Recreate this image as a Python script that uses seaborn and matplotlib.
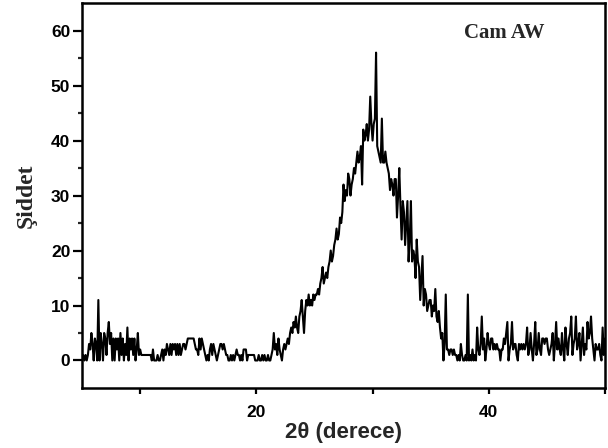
import numpy as np
import pandas as pd
import matplotlib
matplotlib.use("Agg")
import matplotlib.pyplot as plt
import seaborn as sns

# 2-theta grid (degrees) and intensity (0.1 deg steps)
two_theta_start = 5.0
two_theta_step = 0.1
intensity = [
    # 5.0 - 5.9
    0, 1, 0, 1, 0, 1, 3, 2, 5, 3,
    # 6
    0, 4, 3, 0, 11, 0, 5, 3, 0, 5,
    # 7
    4, 1, 5, 7, 3, 5, 0, 4, 0, 4,
    # 8
    2, 4, 0, 5, 1, 4, 0, 3, 1, 6,
    # 9
    0, 4, 2, 4, 1, 4, 0, 2, 5, 1,
    # 10
    2, 1, 1, 1, 1, 1, 1, 1, 1, 1,
    # 11
    0, 2, 0, 0, 0, 1, 0, 0, 1, 2,
    # 12
    0, 2, 1, 3, 2, 1, 3, 1, 3, 2,
    # 13
    3, 1, 3, 1, 3, 1, 2, 3, 3, 2,
    # 14
    3, 4, 4, 4, 4, 4, 4, 3, 2, 2,
    # 15
    1, 4, 2, 4, 3, 2, 1, 0, 1, 0,
    # 16
    2, 3, 1, 3, 2, 1, 0, 1, 2, 3,
    # 17
    3, 2, 3, 2, 1, 1, 0, 0, 1, 0,
    # 18
    1, 0, 1, 2, 1, 1, 0, 1, 0, 2,
    # 19
    2, 2, 0, 1, 1, 1, 1, 1, 1, 0,
    # 20
    0, 0, 1, 0, 0, 1, 0, 1, 0, 0,
    # 21
    1, 0, 0, 1, 2, 5, 2, 3, 1, 4,
    # 22
    2, 1, 0, 2, 3, 2, 3, 4, 3, 5,
    # 23
    6, 5, 7, 6, 8, 6, 5, 8, 9, 11,
    # 24
    8, 5, 9, 11, 10, 12, 10, 11, 10, 12,
    # 25
    11, 12, 12, 13, 12, 14, 15, 17, 14, 15,
    # 26
    16, 15, 17, 18, 20, 18, 19, 21, 22, 24,
    # 27
    22, 23, 26, 25, 27, 32, 29, 31, 30, 34,
    # 28
    33, 30, 32, 33, 35, 34, 36, 38, 36, 37,
    # 29
    39, 32, 42, 40, 41, 43, 40, 42, 48, 43,
    # 30
    40, 43, 44, 56, 39, 38, 37, 36, 44, 36,
    # 31
    36, 38, 36, 35, 34, 31, 33, 32, 30, 33,
    # 32
    33, 26, 30, 35, 28, 22, 29, 27, 21, 25,
    # 33
    29, 18, 22, 29, 18, 20, 19, 15, 22, 18,
    # 34
    17, 11, 15, 19, 10, 13, 12, 9, 10, 11,
    # 35
    11, 8, 10, 9, 13, 8, 7, 9, 6, 4,
    # 36
    5, 0, 3, 12, 2, 2, 1, 2, 2, 1,
    # 37
    2, 1, 1, 0, 1, 0, 3, 1, 0, 0,
    # 38
    1, 0, 12, 0, 1, 0, 2, 0, 1, 0,
    # 39
    6, 2, 1, 3, 8, 2, 4, 0, 2, 5,
    # 40
    3, 2, 4, 4, 2, 3, 2, 3, 2, 2,
    # 41
    0, 2, 2, 4, 3, 5, 7, 0, 2, 3,
    # 42
    7, 2, 3, 3, 1, 0, 3, 2, 3, 2,
    # 43
    3, 2, 3, 6, 1, 2, 5, 2, 0, 3,
    # 44
    7, 1, 2, 5, 2, 1, 4, 4, 3, 4,
    # 45
    4, 2, 1, 2, 3, 5, 0, 3, 7, 2,
    # 46
    4, 2, 1, 5, 2, 0, 6, 3, 1, 4,
    # 47
    5, 8, 1, 3, 4, 8, 2, 3, 5, 0,
    # 48
    3, 6, 1, 3, 2, 7, 4, 5, 8, 4,
    # 49
    2, 0, 3, 2, 2, 3, 1, 0, 6, 1,
    # 50
    4,
]
two_theta = [round(two_theta_start + i * two_theta_step, 2) for i in range(len(intensity))]

x_ticks = [10, 20, 30, 40, 50]
x_tick_labels = ["", "20", "", "40", ""]
y_ticks = [0, 10, 20, 30, 40, 50, 60]
y_tick_labels = ["0", "10", "20", "30", "40", "50", "60"]

df = pd.DataFrame({"two_theta": two_theta, "intensity": intensity})

sns.set_theme(style="ticks")
plt.rcParams["font.family"] = ["Liberation Sans", "DejaVu Sans"]

fig = plt.figure(figsize=(6.08, 4.48), dpi=100)
ax = fig.add_axes([0.135, 0.134, 0.86, 0.859])

sns.lineplot(data=df, x="two_theta", y="intensity", color="black", linewidth=1.5, ax=ax)

ax.set_xlim(5, 50)
ax.set_ylim(-5, 65)
ax.set_xticks(x_ticks)
ax.set_xticklabels(x_tick_labels, fontsize=12.5, fontweight="bold")
ax.set_yticks(y_ticks)
ax.set_yticklabels(y_tick_labels, fontsize=12.5, fontweight="bold")
ax.set_yticks([5, 15, 25, 35, 45, 55], minor=True)
ax.tick_params(axis="y", which="major", direction="out", length=6.5, width=1.6, colors="black", pad=2)
ax.tick_params(axis="y", which="minor", direction="out", length=3.2, width=1.6)
ax.tick_params(axis="x", which="major", direction="out", length=4, width=1.6, colors="black", pad=8)

for s in ax.spines.values():
    s.set_visible(True)
    s.set_linewidth(1.8)
    s.set_color("black")

ax.set_xlabel("2θ (derece)", fontsize=16, fontweight="bold", labelpad=2)
ax.set_ylabel("Şiddet", fontsize=17, fontweight="bold",
              family=["Liberation Serif", "DejaVu Serif"], labelpad=10)
ax.text(0.807, 0.922, "Cam AW", transform=ax.transAxes, ha="center", va="center",
        fontsize=15, fontweight="bold", family=["Liberation Serif", "DejaVu Serif"])

fig.savefig("out.png", dpi=100)
